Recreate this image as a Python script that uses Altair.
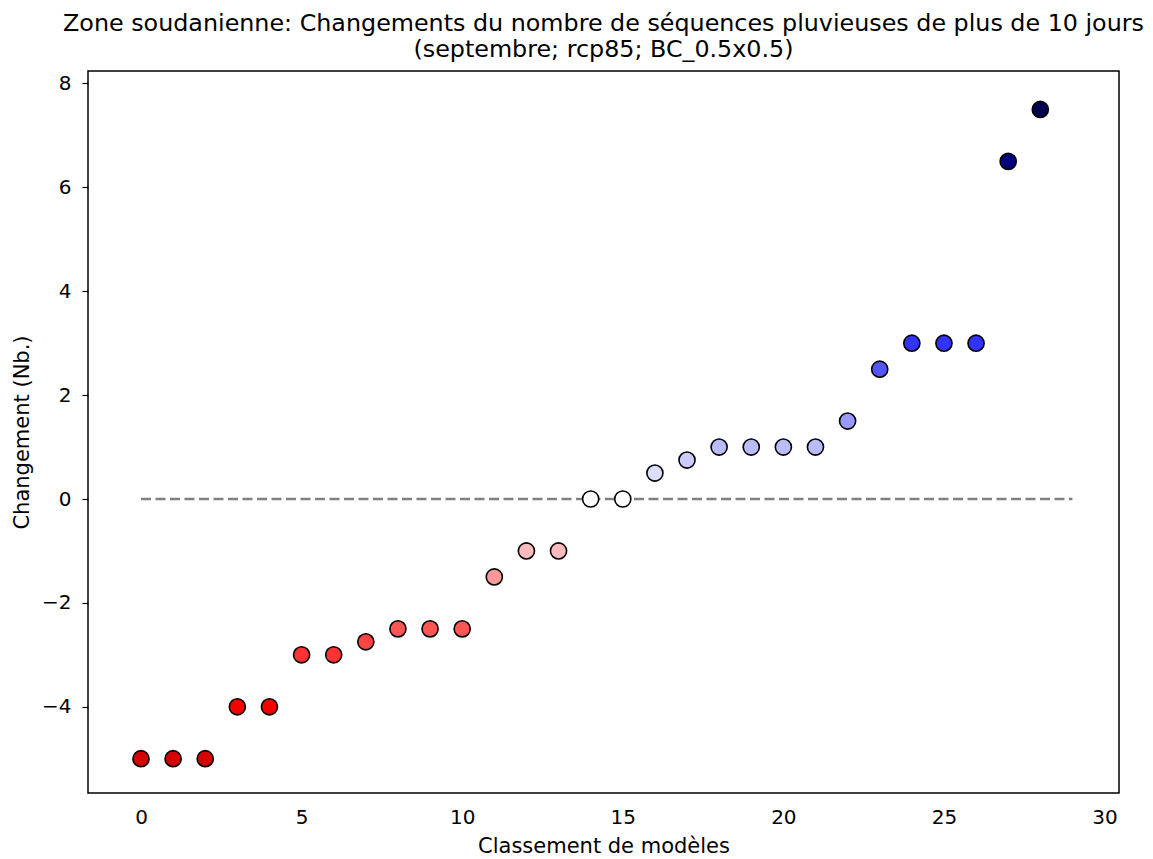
import altair as alt
import pandas as pd

ranks = list(range(29))
changes = [-5, -5, -5, -4, -4, -3, -3, -2.75, -2.5, -2.5, -2.5, -1.5, -1, -1,
           0, 0, 0.5, 0.75, 1, 1, 1, 1, 1.5, 2.5, 3, 3, 3, 6.5, 7.5]
zero_x = [0, 29]
zero_y = [0, 0]
x_ticks = [0, 5, 10, 15, 20, 25, 30]
y_ticks = [-4, -2, 0, 2, 4, 6, 8]

pts = pd.DataFrame({"rank": ranks, "change": changes})
line = pd.DataFrame({"x": zero_x, "y": zero_y})

FONT = "DejaVu Sans"
xs = alt.Scale(domain=[-1.65, 30.45], nice=False, zero=False)
ys = alt.Scale(domain=[-5.66, 8.24], nice=False, zero=False)

xaxis = alt.Axis(values=x_ticks, title="Classement de modèles", grid=False, domain=False,
                 ticks=False, tickSize=0, labelFontSize=20,
                 labelColor="black", titleFontSize=21, titleFontWeight="normal",
                 titleColor="black", labelFont=FONT, titleFont=FONT, labelPadding=14,
                 titlePadding=8)
yaxis = alt.Axis(values=y_ticks, title="Changement (Nb.)", grid=False, domain=False,
                 tickColor="black", tickSize=6, tickWidth=1.2, labelFontSize=20,
                 labelColor="black", titleFontSize=21, titleFontWeight="normal",
                 titleColor="black", labelFont=FONT, titleFont=FONT, labelPadding=11,
                 titlePadding=9)

dash = alt.Chart(line).mark_line(color="#808080", strokeWidth=2.5, strokeDash=[10, 4.5]).encode(
    x=alt.X("x:Q", scale=xs, axis=xaxis),
    y=alt.Y("y:Q", scale=ys, axis=yaxis),
)

dots = alt.Chart(pts).mark_point(filled=True, shape="circle", size=260, stroke="black",
                                 strokeWidth=1.6, opacity=1).encode(
    x=alt.X("rank:Q", scale=xs),
    y=alt.Y("change:Q", scale=ys),
    fill=alt.Fill("change:Q", legend=None,
                  scale=alt.Scale(domain=[-7.5, -3.75, 0, 3.75, 7.5],
                                  range=["#800000", "#ff0000", "#ffffff", "#0000ff", "#00004d"],
                                  interpolate="rgb")),
)

chart = alt.layer(dash, dots).properties(
    width=1031, height=722,
    title=alt.Title(
        ["Zone soudanienne: Changements du nombre de séquences pluvieuses de plus de 10 jours",
         "(septembre; rcp85; BC_0.5x0.5)"],
        fontSize=23.8, font=FONT, fontWeight="normal", color="black", anchor="middle",
        offset=9, lineHeight=26),
    autosize=alt.AutoSizeParams(type="none"),
    padding={"left": 80, "top": 63, "right": 26, "bottom": 64},
).configure_view(stroke="black", strokeWidth=1.5)

chart.save("out.html", embed_options={"renderer": "svg", "actions": False})
